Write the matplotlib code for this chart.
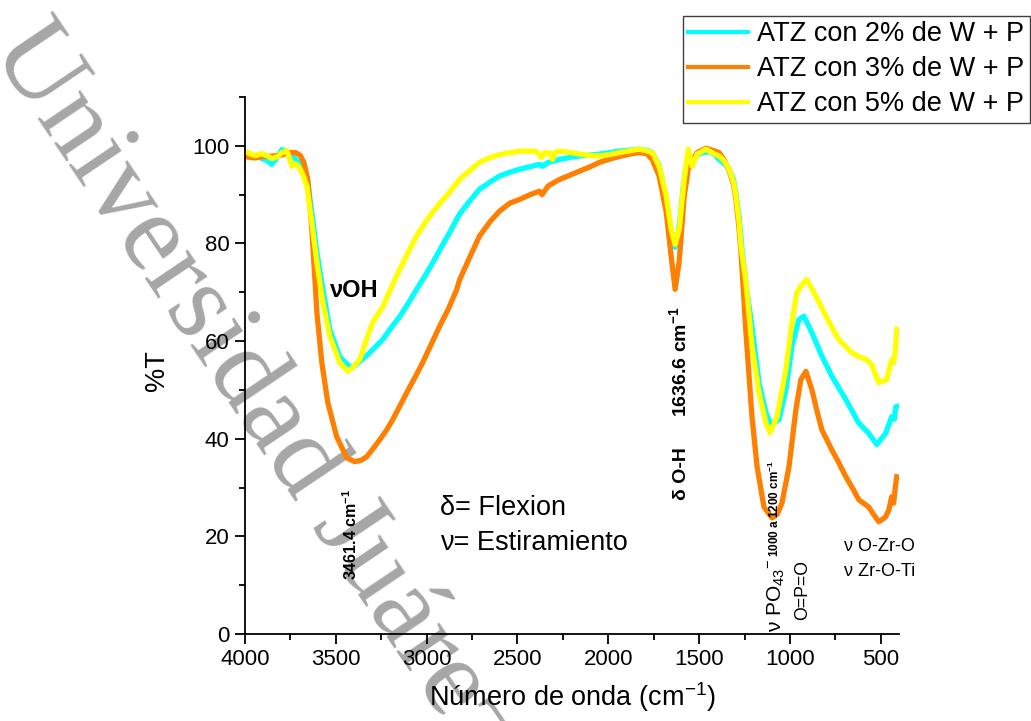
import matplotlib as mpl
mpl.use('Agg')
import matplotlib.pyplot as plt
from matplotlib.ticker import MultipleLocator

plt.rcParams['font.family'] = ['Liberation Sans', 'DejaVu Sans']
plt.rcParams['mathtext.fontset'] = 'custom'
plt.rcParams['mathtext.rm'] = 'Liberation Sans'
plt.rcParams['mathtext.bf'] = 'Liberation Sans:bold'
plt.rcParams['mathtext.default'] = 'regular'

# FTIR transmittance spectra (wavenumber in cm-1, %T)
wn_2 = [4000, 3960, 3920, 3880, 3852, 3820, 3797, 3770, 3740, 3710, 3685, 3659,
        3632, 3604, 3571, 3533, 3478, 3430, 3407, 3370, 3330, 3290, 3242, 3190,
        3148, 3100, 3055, 3010, 2967, 2920, 2874, 2819, 2760, 2709, 2650, 2599,
        2540, 2489, 2430, 2379, 2363, 2330, 2269, 2200, 2159, 2100, 2049, 1990,
        1940, 1880, 1830, 1780, 1758, 1720, 1690, 1660, 1640, 1632, 1620, 1605,
        1590, 1575, 1560, 1545, 1530, 1510, 1480, 1440, 1410, 1390, 1360, 1335,
        1310, 1297, 1280, 1264, 1242, 1209, 1170, 1132, 1104, 1060, 1022, 989,
        951, 923, 879, 824, 769, 692, 621, 566, 522, 473, 440, 425, 418, 412]
t_2 = [98.2, 97.9, 97.6, 97.0, 96.2, 97.8, 99.2, 98.9, 98.0, 96.8, 95.5, 93.8,
       86.4, 78.2, 70.6, 62.4, 56.8, 55.0, 54.6, 55.8, 57.0, 58.5, 60.3, 63.0,
       65.0, 67.8, 70.6, 73.3, 76.0, 79.2, 82.2, 86.0, 88.8, 91.1, 92.6, 93.8,
       94.6, 95.2, 95.7, 96.2, 95.8, 96.6, 97.2, 97.7, 97.9, 98.1, 98.3, 98.6,
       98.9, 99.1, 99.3, 99.0, 98.6, 96.0, 90.5, 84.0, 80.0, 79.2, 81.0, 85.0,
       90.5, 95.0, 97.5, 97.5, 97.0, 98.2, 98.6, 98.8, 98.0, 97.2, 96.3, 95.2,
       93.0, 90.0, 85.5, 78.8, 71.5, 63.0, 51.5, 45.3, 42.9, 43.9, 50.0, 58.9,
       64.4, 65.1, 61.7, 56.9, 52.8, 48.0, 43.2, 41.1, 38.8, 41.1, 44.5, 44.0,
       46.5, 46.6]

wn_3 = [4000, 3950, 3900, 3850, 3800, 3760, 3720, 3695, 3675, 3654, 3632, 3615,
        3604, 3577, 3544, 3495, 3440, 3396, 3360, 3330, 3290, 3258, 3220, 3187,
        3150, 3110, 3065, 3022, 2975, 2929, 2880, 2835, 2819, 2760, 2709, 2650,
        2599, 2540, 2489, 2430, 2379, 2365, 2330, 2269, 2210, 2159, 2100, 2049,
        1990, 1940, 1880, 1830, 1790, 1758, 1720, 1681, 1654, 1632, 1610, 1582,
        1560, 1538, 1511, 1462, 1420, 1390, 1360, 1335, 1310, 1297, 1280, 1269,
        1242, 1209, 1181, 1143, 1099, 1070, 1044, 1005, 967, 940, 912, 879, 850,
        824, 769, 730, 692, 650, 621, 566, 540, 511, 490, 473, 455, 440, 429,
        420, 412]
t_3 = [97.8, 97.5, 97.8, 97.9, 98.1, 98.6, 98.6, 98.0, 96.5, 93.0, 82.9, 72.6,
       65.8, 55.6, 47.4, 40.4, 36.1, 35.3, 35.6, 36.3, 38.2, 39.8, 41.8, 43.9,
       46.5, 49.4, 52.5, 55.6, 59.3, 63.0, 66.6, 70.5, 72.5, 77.4, 81.5, 84.5,
       86.6, 88.3, 89.0, 90.0, 90.7, 90.0, 91.8, 93.1, 94.0, 94.8, 95.7, 96.6,
       97.3, 97.8, 98.3, 98.6, 98.4, 97.2, 93.8, 86.4, 77.4, 70.6, 76.1, 89.7,
       95.2, 97.0, 98.6, 99.5, 99.0, 98.6, 97.0, 95.0, 92.0, 89.0, 83.0, 78.0,
       61.7, 44.5, 34.3, 26.0, 23.8, 24.5, 26.8, 34.3, 46.0, 52.1, 53.8, 50.0,
       45.5, 41.8, 37.7, 35.0, 32.2, 29.5, 27.5, 26.0, 24.5, 23.0, 23.5, 24.0,
       25.5, 28.1, 26.8, 30.0, 32.2]

wn_5 = [4000, 3970, 3940, 3910, 3880, 3850, 3820, 3797, 3770, 3755, 3742, 3720,
        3700, 3680, 3659, 3632, 3604, 3571, 3533, 3478, 3434, 3410, 3368, 3330,
        3297, 3242, 3200, 3148, 3100, 3055, 3010, 2967, 2920, 2874, 2819, 2760,
        2709, 2650, 2599, 2540, 2489, 2420, 2396, 2368, 2350, 2320, 2308, 2290,
        2269, 2200, 2159, 2100, 2049, 1990, 1940, 1880, 1830, 1790, 1758, 1720,
        1681, 1654, 1632, 1610, 1582, 1560, 1538, 1511, 1462, 1420, 1390, 1360,
        1335, 1310, 1297, 1280, 1269, 1242, 1209, 1170, 1132, 1110, 1071, 1022,
        989, 962, 935, 907, 857, 802, 731, 659, 620, 577, 550, 511, 467, 440,
        429, 420, 412]
t_5 = [98.9, 98.3, 98.0, 98.4, 98.0, 97.4, 97.8, 98.6, 99.0, 97.5, 95.8, 96.3,
       95.5, 94.0, 91.7, 84.3, 76.0, 67.9, 61.0, 55.6, 53.8, 54.5, 56.2, 60.5,
       63.8, 67.0, 70.5, 74.7, 78.3, 81.5, 84.2, 86.4, 88.5, 90.5, 93.1, 95.0,
       96.6, 97.6, 98.2, 98.6, 98.9, 98.9, 98.9, 97.6, 98.6, 98.5, 97.2, 98.7,
       98.9, 98.6, 98.3, 98.0, 97.9, 98.2, 98.6, 99.0, 99.3, 99.0, 98.6, 95.8,
       89.7, 82.9, 79.8, 82.9, 93.1, 99.3, 95.8, 98.3, 99.3, 98.4, 97.9, 96.8,
       95.2, 92.5, 89.7, 84.5, 79.4, 71.9, 59.0, 49.4, 43.2, 41.2, 44.5, 54.2,
       63.8, 69.9, 71.5, 72.6, 69.2, 65.1, 60.3, 57.6, 56.8, 56.2, 55.2, 51.5,
       52.1, 56.2, 55.6, 58.0, 62.4]

labels = ['ATZ con 2% de W + P', 'ATZ con 3% de W + P', 'ATZ con 5% de W + P']
colors = ['#00ffff', '#ff7f00', '#ffff00']

fig = plt.figure(figsize=(10.31, 7.21), dpi=100)
ax = fig.add_axes([0.2376, 0.1207, 0.6343, 0.7448])
ax.set_facecolor('none')

# watermark behind the axes
fig.text(-0.0097, 0.931, 'Universidad Juárez', family='Liberation Serif',
         fontsize=80.5, color='#a6a6a6', rotation=-56, rotation_mode='anchor',
         ha='left', va='baseline', zorder=-5)

for wn, t, lab, c in zip([wn_2, wn_3, wn_5], [t_2, t_3, t_5], labels, colors):
  ax.plot(wn, t, color=c, lw=3.8, label=lab, solid_joinstyle='round')

ax.set_xlim(4000, 400)
ax.set_ylim(0, 110)
ax.xaxis.set_major_locator(MultipleLocator(500))
ax.xaxis.set_minor_locator(MultipleLocator(250))
ax.yaxis.set_major_locator(MultipleLocator(20))
ax.yaxis.set_minor_locator(MultipleLocator(10))
for s in ['top', 'right']:
  ax.spines[s].set_visible(False)
for s in ['left', 'bottom']:
  ax.spines[s].set_linewidth(1.3)
ax.tick_params(which='major', direction='out', length=7, width=1.3, labelsize=16, pad=4)
ax.tick_params(which='minor', direction='out', length=4, width=1.3)

ax.set_xlabel('Número de onda (cm$^{-1}$)', fontsize=19.5)
ax.set_ylabel('%T', fontsize=19.5)
ax.xaxis.set_label_coords(0.5, -0.087)
ax.yaxis.set_label_coords(-0.115, 0.49)

leg = ax.legend(loc='upper right', bbox_to_anchor=(0.999, 0.978),
                bbox_transform=fig.transFigure, fontsize=19.5, frameon=True,
                fancybox=False, framealpha=1, edgecolor='#404040',
                handlelength=2.2, handletextpad=0.35, labelspacing=0.33,
                borderpad=0.2, borderaxespad=0)
leg.get_frame().set_linewidth(1.0)
for line in leg.get_lines():
  line.set_linewidth(3)

# band assignments
ax.text(3533, 69.1, 'νOH', fontsize=17, fontweight='bold')
ax.text(3385, 11.1, '3461.4 cm$^{-1}$', fontsize=11.5, fontweight='bold',
        rotation=90, rotation_mode='anchor', ha='left', va='baseline')
ax.text(1571, 27.5, 'δ O-H', fontsize=14, fontweight='bold',
        rotation=90, rotation_mode='anchor', ha='left', va='baseline')
ax.text(1571, 44.5, '1636.6 cm$^{-1}$', fontsize=14, fontweight='bold',
        rotation=90, rotation_mode='anchor', ha='left', va='baseline')
ax.text(1044, 0.4, 'ν PO$_{43}{}^{-}$', fontsize=15,
        rotation=90, rotation_mode='anchor', ha='left', va='baseline')
ax.text(1060, 15.8, '1000 a 1200 cm$^{-1}$', fontsize=8.5, fontweight='bold',
        rotation=90, rotation_mode='anchor', ha='left', va='baseline')
ax.text(907, 2.9, 'O=P=O', fontsize=12.7,
        rotation=90, rotation_mode='anchor', ha='left', va='baseline')
ax.text(2929, 24.4, 'δ= Flexion', fontsize=19.5)
ax.text(2929, 17.2, 'ν= Estiramiento', fontsize=19.5)
ax.text(703, 17.0, 'ν O-Zr-O', fontsize=13)
ax.text(703, 11.9, 'ν Zr-O-Ti', fontsize=13)

fig.savefig('out.png', dpi=100)
